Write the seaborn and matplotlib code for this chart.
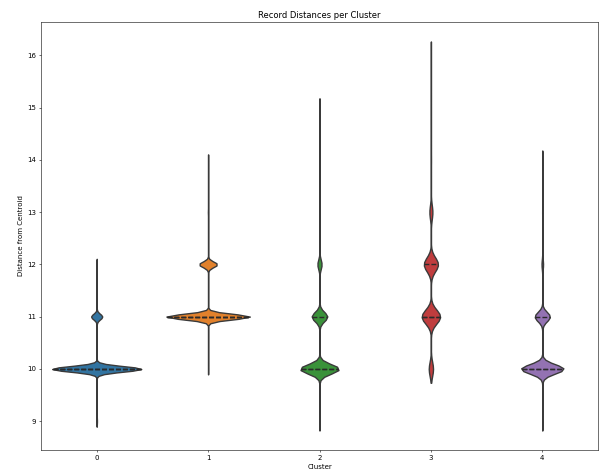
import numpy as np
import pandas as pd
import matplotlib
matplotlib.use("Agg")
import matplotlib.pyplot as plt
import seaborn as sns

# Distance values (rounded) and how many records per cluster sit at each
distance_values = [9, 10, 11, 12, 13, 14, 15, 16]
cluster_labels = ["0", "1", "2", "3", "4"]
counts_c0 = [50, 8800, 1100, 20, 0, 0, 0, 0]
counts_c1 = [0, 30, 24000, 5250, 120, 24, 0, 0]
counts_c2 = [90, 19500, 7800, 2100, 300, 60, 20, 0]
counts_c3 = [0, 1000, 4300, 3300, 700, 60, 15, 8]
counts_c4 = [30, 7000, 2500, 250, 40, 15, 0, 0]

all_counts = [counts_c0, counts_c1, counts_c2, counts_c3, counts_c4]

# Build long-form table
rows = []
for label, counts in zip(cluster_labels, all_counts):
    vals = np.repeat(distance_values, counts)
    rows.append(pd.DataFrame({"Cluster": label, "Distance": vals.astype(float)}))
df = pd.concat(rows, ignore_index=True)

# --- Violin plot of distances ---
fig = plt.figure(figsize=(12, 9.44), dpi=50)
ax = sns.violinplot(data=df, x="Cluster", y="Distance", hue="Cluster",
                    palette="tab10", inner="quart", legend=False,
                    common_norm=True, linewidth=2, linecolor="#3a3a3a",
                    inner_kws=dict(linewidth=2, color="#2a2a2a"))

# longer dashes for the quartile lines
for line in ax.lines:
    line.set_dashes((3.5, 1.5))

ax.set_title("Record Distances per Cluster")
ax.set_xlabel("Cluster")
ax.set_ylabel("Distance from Centroid")
plt.subplots_adjust(left=41/600, right=598/600, top=1-22/472, bottom=1-450/472)
plt.savefig("out.png", dpi=50)
